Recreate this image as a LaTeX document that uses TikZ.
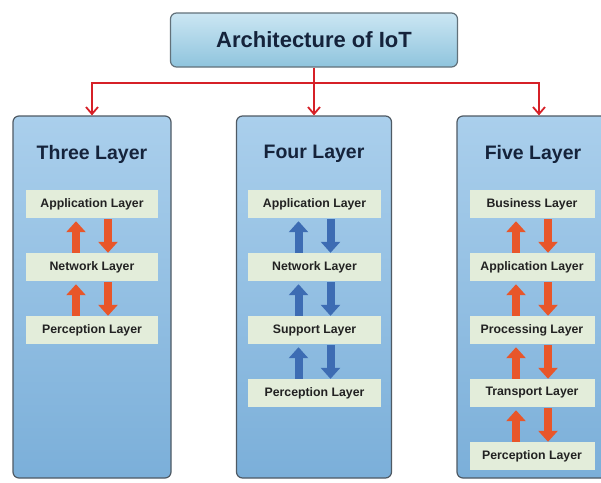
\documentclass[tikz,border=0pt]{standalone}
\usepackage{fontspec}
\setmainfont{Liberation Sans}
\usetikzlibrary{arrows.meta}
\definecolor{boxtop}{HTML}{AACFEC}
\definecolor{boxbot}{HTML}{7BAFD9}
\definecolor{boxedge}{HTML}{4F5A64}
\definecolor{ttop}{HTML}{CBE6F3}
\definecolor{tbot}{HTML}{8FC4DD}
\definecolor{tedge}{HTML}{62717A}
\definecolor{inner}{HTML}{E3EDDA}
\definecolor{arrO}{HTML}{E8562A}
\definecolor{arrB}{HTML}{3D6CB3}
\definecolor{conred}{HTML}{D62027}
\definecolor{headc}{HTML}{15233B}
\definecolor{txtc}{HTML}{222222}
\begin{document}
\begin{tikzpicture}[x=1pt,y=-1pt,
  titlebox/.style={draw=tedge, line width=1.2pt, top color=ttop, bottom color=tbot,
    rounded corners=6pt, minimum width=287pt, minimum height=54pt, inner sep=0pt,
    font=\fontsize{22}{26}\selectfont\bfseries, text=headc},
  colbox/.style={draw=boxedge, line width=1.2pt, top color=boxtop, bottom color=boxbot,
    rounded corners=6pt, minimum height=362pt, inner sep=0pt},
  heading/.style={font=\fontsize{19.5}{22}\selectfont\bfseries, text=headc},
  layerbox/.style={fill=inner, minimum height=28pt, inner sep=0pt,
    font=\fontsize{12.3}{14}\selectfont\bfseries, text=txtc},
  conn/.style={draw=conred, line width=2pt, -{Straight Barb[length=7pt,width=12pt,line width=1.8pt]}},
  uparr/.style={draw=#1, line width=8pt, -{Triangle[length=11pt,width=19pt]}, shorten >=3pt},
  dnarr/.style={draw=#1, line width=8pt, -{Triangle[length=11pt,width=19pt]}, shorten <=1pt}
]
\useasboundingbox (0,0) rectangle (601,482);
\fill[white] (0,0) rectangle (601,482);

\node[titlebox] (title) at (314,40) {Architecture of IoT};

\begin{scope}
\clip (0,0) rectangle (601,482);
\node[colbox, minimum width=158pt] (three) at (92,297) {};
\node[colbox, minimum width=155pt] (four) at (314,297) {};
\node[colbox, minimum width=164pt] (five) at (539,297) {};
\end{scope}

\coordinate (split) at (314,83);
\draw[conn] (title.south) -- (four.north);
\draw[conn] (split) -| (three.north);
\draw[conn] (split) -| (five.north);

\node[heading] (h3) at (92,154) {Three Layer};
\node[heading] (h4) at (314,154) {Four Layer};
\node[heading] (h5) at (533,154) {Five Layer};

% Three layer column
\node[layerbox, minimum width=132pt] (t1) at (92,204) {Application Layer};
\node[layerbox, minimum width=132pt] (t2) at (92,267) {Network Layer};
\node[layerbox, minimum width=132pt] (t3) at (92,330) {Perception Layer};
\foreach \a/\b in {t1/t2, t2/t3}{
  \draw[uparr=arrO] ([xshift=-16pt]\b.north) -- ([xshift=-16pt]\a.south);
  \draw[dnarr=arrO] ([xshift=16pt]\a.south) -- ([xshift=16pt]\b.north);
}

% Four layer column
\node[layerbox, minimum width=133pt] (f1) at (314.5,204) {Application Layer};
\node[layerbox, minimum width=133pt] (f2) at (314.5,267) {Network Layer};
\node[layerbox, minimum width=133pt] (f3) at (314.5,330) {Support Layer};
\node[layerbox, minimum width=133pt] (f4) at (314.5,393) {Perception Layer};
\foreach \a/\b in {f1/f2, f2/f3, f3/f4}{
  \draw[uparr=arrB] ([xshift=-16pt]\b.north) -- ([xshift=-16pt]\a.south);
  \draw[dnarr=arrB] ([xshift=16pt]\a.south) -- ([xshift=16pt]\b.north);
}

% Five layer column
\node[layerbox, minimum width=125pt] (v1) at (532,204) {Business Layer};
\node[layerbox, minimum width=125pt] (v2) at (532,267) {Application Layer};
\node[layerbox, minimum width=125pt] (v3) at (532,330) {Processing Layer};
\node[layerbox, minimum width=125pt] (v4) at (532,393) {Transport Layer};
\node[layerbox, minimum width=125pt] (v5) at (532,456) {Perception Layer};
\foreach \a/\b in {v1/v2, v2/v3, v3/v4, v4/v5}{
  \draw[uparr=arrO] ([xshift=-16pt]\b.north) -- ([xshift=-16pt]\a.south);
  \draw[dnarr=arrO] ([xshift=16pt]\a.south) -- ([xshift=16pt]\b.north);
}
\end{tikzpicture}
\end{document}
